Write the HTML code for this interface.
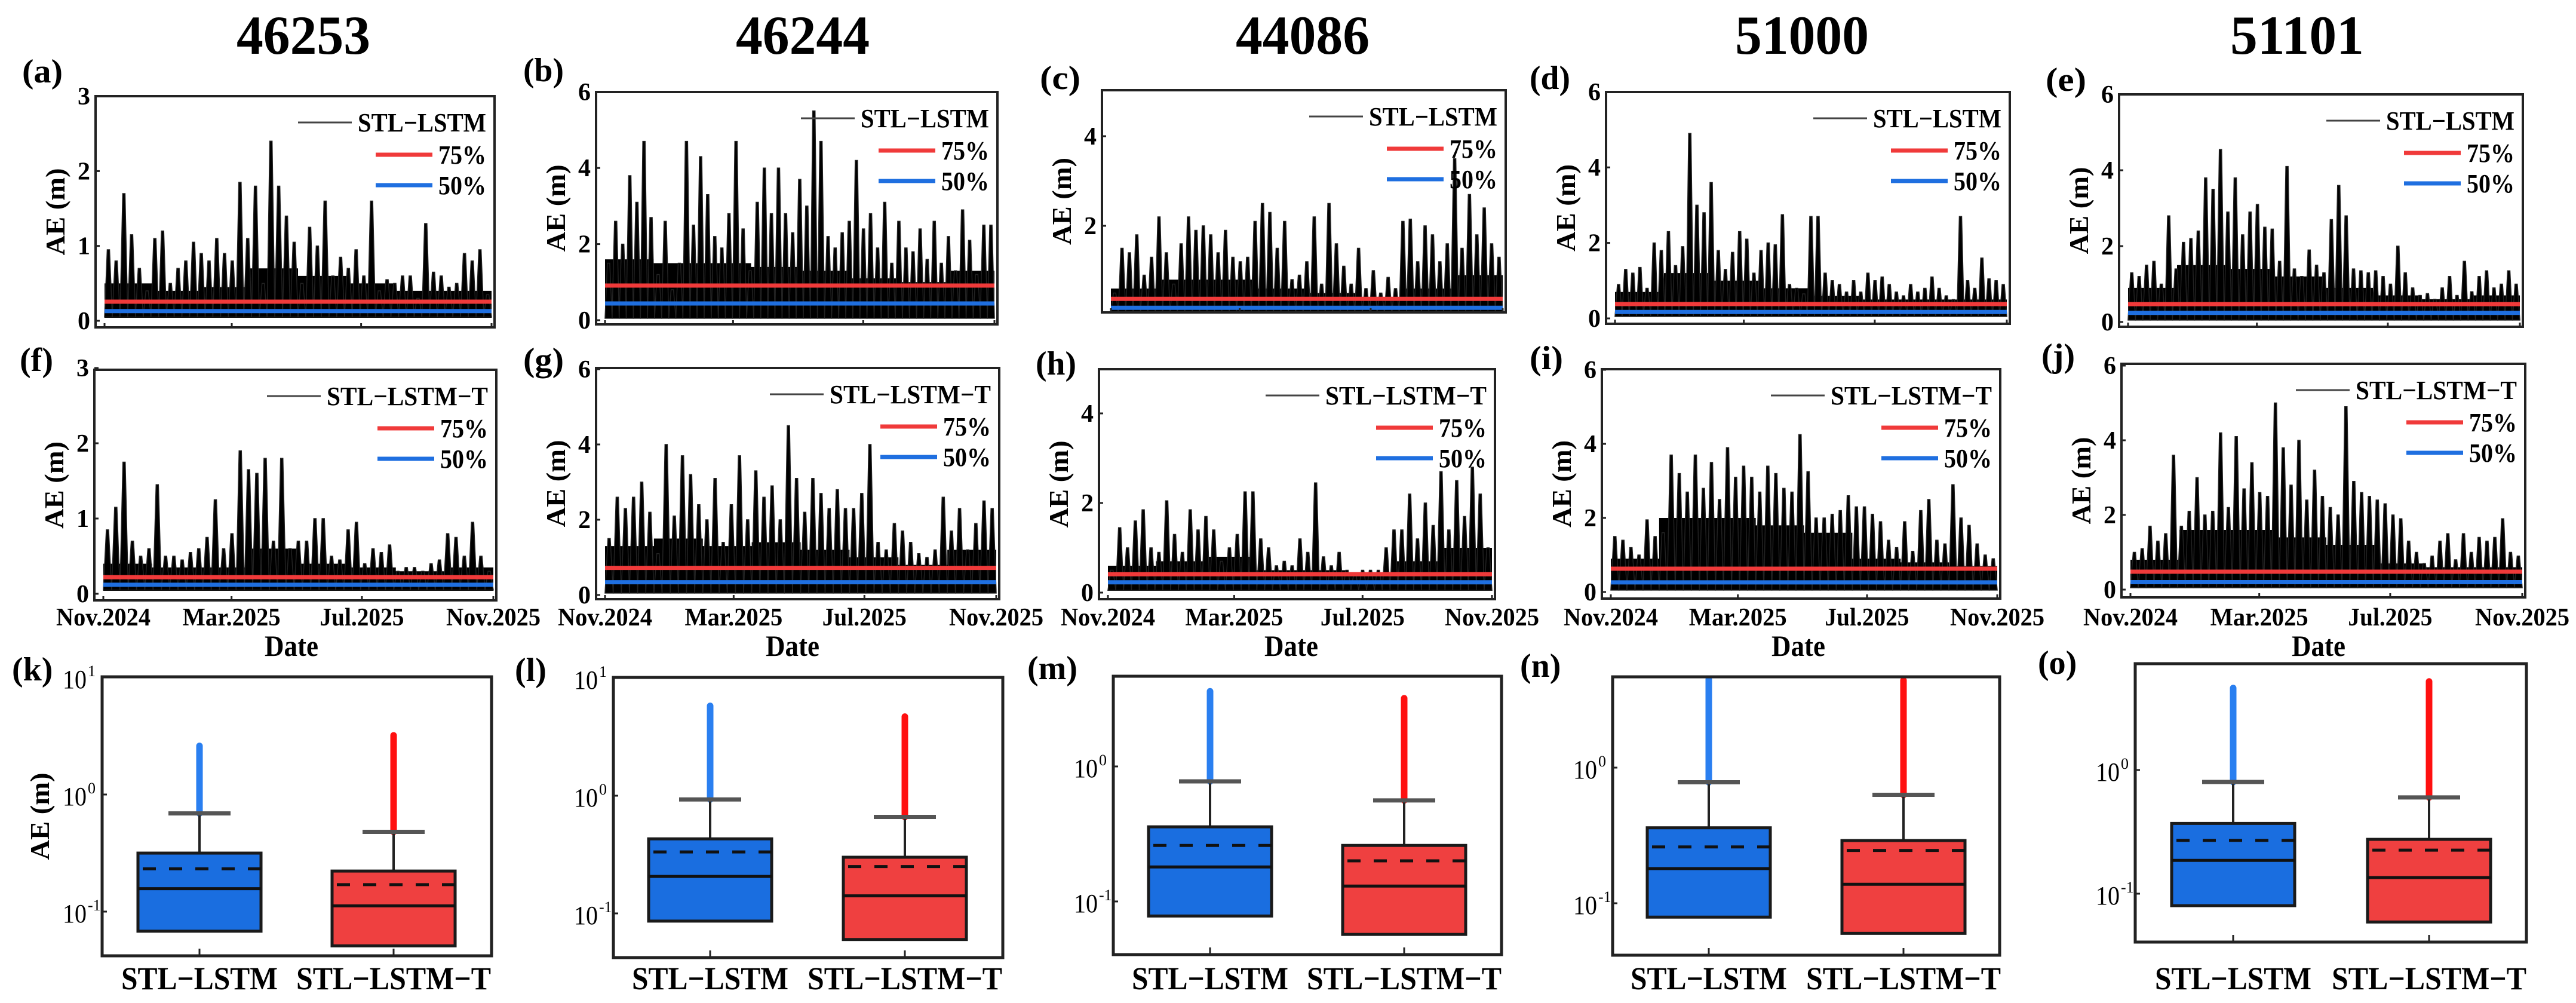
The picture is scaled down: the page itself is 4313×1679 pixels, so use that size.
<!DOCTYPE html>
<html><head><meta charset="utf-8">
<style>
html,body{margin:0;padding:0;background:#fff;}
svg{display:block;font-family:"Liberation Serif","Times New Roman",serif;}
svg text{font-family:"Liberation Serif","Times New Roman",serif;}
</style></head>
<body>
<svg id="fig" width="4313" height="1679" viewBox="0 0 4313 1679" xmlns="http://www.w3.org/2000/svg">
<rect x="0" y="0" width="4313" height="1679" fill="#fff"/>
</svg>
<script>
// ---------- data ----------
const stations = ["46253","46244","44086","51000","51101"];
const dateTicks = ["Nov.2024","Mar.2025","Jul.2025","Nov.2025"];
const dateTickDays = [0,120,242,365];
const models = ["STL−LSTM","STL−LSTM−T"];

const peaksA = [0.95,0.8,1.7,1.15,0.7,0.4,1.1,1.2,0.5,0.7,0.8,1.05,0.9,0.8,1.1,0.9,0.8,1.85,1.1,1.8,0.5,2.4,1.8,1.4,1.05,0.5,1.25,1.0,1.6,0.6,0.85,0.7,0.95,0.6,1.6,0.4,0.55,0.5,0.6,0.6,0.3,1.3,0.65,0.6,0.45,0.5,0.9,0.8,0.95,0.35];
const peaksF = [0.85,1.15,1.75,0.7,0.5,0.6,1.45,0.5,0.5,0.45,0.55,0.6,0.75,1.25,0.6,0.8,1.9,1.65,1.6,1.8,0.7,1.8,0.6,0.7,0.7,1.0,1.0,0.5,0.45,0.85,0.95,0.4,0.6,0.55,0.65,0.3,0.35,0.35,0.3,0.4,0.45,0.8,0.75,0.5,0.95,0.5,0.3];
const peaksB = [1.5,2.6,2.0,3.8,3.1,4.7,2.7,1.2,2.6,0.8,1.5,4.7,2.5,4.3,3.3,2.2,1.9,2.8,4.7,2.4,1.3,3.1,4.0,2.8,4.0,2.8,2.3,3.7,3.0,5.5,4.7,2.2,1.9,2.3,2.6,4.2,2.4,2.8,1.9,3.1,1.5,2.6,1.9,1.8,2.4,1.6,2.6,1.5,2.2,1.3,2.9,2.1,1.2,2.5,2.5];
const peaksG = [1.5,2.6,2.3,2.6,3.0,2.2,1.1,4.0,2.1,3.7,3.2,2.4,2.0,3.1,1.4,2.4,3.7,2.0,3.3,2.6,2.9,2.0,4.5,3.1,2.2,3.1,2.7,2.3,2.8,2.3,2.3,2.7,4.0,1.4,1.2,1.9,1.7,1.4,1.1,1.0,1.2,2.6,1.7,2.3,1.2,1.9,2.5,2.3];
const peaksC = [0.5,1.5,1.4,1.8,0.9,1.3,2.2,1.4,0.7,1.6,2.2,1.9,2.0,1.8,1.4,1.9,1.3,1.2,1.3,2.1,2.5,2.3,1.5,2.1,0.8,0.9,1.2,2.2,0.7,2.5,1.6,1.1,0.7,1.5,0.6,1.0,0.5,0.85,0.6,2.1,2.15,1.2,2.0,1.8,1.2,1.6,3.5,1.5,2.7,1.8,2.4,1.6,1.3];
const peaksH = [0.5,1.45,1.0,1.6,1.85,1.0,0.9,2.05,1.3,0.9,1.85,1.4,1.7,1.4,0.7,1.0,1.3,2.25,2.25,1.2,1.0,0.6,0.7,0.6,1.2,0.9,2.45,0.8,0.6,0.9,0.5,0.4,0.5,0.5,0.5,1.0,1.4,1.4,2.2,1.2,2.0,1.5,2.7,1.4,2.5,1.7,2.8,2.2,1.0];
const peaksD = [0.9,1.3,1.2,1.35,0.8,2.0,1.8,2.3,1.4,1.9,4.9,3.0,2.8,3.6,1.8,1.3,1.75,2.3,2.1,1.2,1.8,2.0,1.95,2.75,0.9,0.8,0.65,2.7,2.7,1.2,1.0,0.9,0.7,1.0,0.7,1.2,1.0,1.1,0.9,0.7,0.6,0.9,0.7,0.8,1.1,0.8,0.6,0.5,2.7,1.0,0.8,1.6,1.05,1.0,0.9];
const peaksI = [1.5,1.4,1.2,1.0,1.95,1.5,1.6,3.7,3.2,2.7,3.7,2.8,3.5,2.5,3.9,3.1,3.4,3.1,2.7,3.4,3.2,2.8,2.7,4.25,3.25,2.0,2.0,2.1,2.2,2.6,2.3,2.3,2.1,1.9,1.4,1.2,1.9,1.1,2.2,2.5,1.4,1.3,2.9,2.0,1.8,1.3,1.0,0.9];
const peaksE = [1.3,1.2,1.5,1.6,1.0,2.8,1.4,2.1,2.2,2.4,3.8,3.5,4.55,2.9,3.8,2.3,2.9,3.1,2.5,2.45,1.6,4.1,1.4,1.2,1.9,1.5,1.3,2.7,3.6,2.8,1.4,1.35,1.3,1.35,1.2,1.0,2.0,1.3,0.9,0.7,0.75,0.6,0.9,1.2,0.7,1.6,0.8,1.2,1.35,0.9,1.0,1.35,1.0];
const peaksJ = [1.0,1.1,1.7,1.3,1.5,3.6,1.7,2.1,3.0,2.0,2.1,4.2,2.2,4.1,2.7,3.4,2.6,2.5,5.0,3.8,2.8,4.0,2.4,3.2,2.5,2.2,2.0,4.9,2.9,2.6,2.5,2.4,2.3,2.0,1.9,1.3,1.0,0.7,0.9,1.3,1.5,0.8,1.5,1.0,1.4,1.3,1.4,1.9,1.0,0.9];

const bodyA = [0.5,0.4,0.45,0.7,0.6,0.5,0.4,0.4];
const bodyF = [0.4,0.35,0.35,0.6,0.4,0.35,0.3,0.35];
const bodyB = [1.6,1.5,1.5,1.4,1.3,1.1,1.0,1.3];
const bodyG = [1.3,1.5,1.3,1.4,1.2,1.0,0.8,1.2];
const bodyC = [0.6,0.8,0.8,0.6,0.5,0.4,0.6,0.9];
const bodyH = [0.6,0.7,0.8,0.5,0.5,0.4,0.7,1.0];
const bodyD = [0.7,1.2,1.0,0.8,0.6,0.5,0.5,0.5];
const bodyI = [0.9,2.0,2.0,1.8,1.6,0.9,0.8,0.7];
const bodyE = [0.9,1.5,1.4,1.2,0.9,0.7,0.6,0.7];
const bodyJ = [0.8,1.6,1.6,1.4,1.2,0.7,0.6,0.6];

const q75Line = [0.255,0.91,0.37,0.38,0.47, 0.22,0.72,0.41,0.63,0.48];
const q50Line = [0.13,0.44,0.17,0.17,0.24, 0.12,0.34,0.23,0.26,0.20];

// box stats per station: [q1, median, mean, q3, whisker, outlierTop]
const boxLSTM  = [[0.068,0.157,0.232,0.316,0.69,2.6],[0.086,0.206,0.333,0.43,0.93,5.8],[0.078,0.18,0.26,0.357,0.775,3.6],[0.079,0.18,0.26,0.36,0.78,4.6],[0.08,0.186,0.27,0.37,0.80,4.6]];
const boxLSTMT = [[0.051,0.112,0.17,0.222,0.48,3.2],[0.06,0.141,0.25,0.30,0.66,4.7],[0.057,0.13,0.20,0.26,0.56,3.2],[0.06,0.138,0.245,0.29,0.63,4.4],[0.059,0.135,0.225,0.275,0.60,5.2]];

// ---------- layout ----------
const NS="http://www.w3.org/2000/svg";
const svg=document.getElementById('fig');
function mk(tag,attrs,parent){const e=document.createElementNS(NS,tag);for(const k in attrs)e.setAttribute(k,attrs[k]);(parent||svg).appendChild(e);return e;}
function txt(s,attrs,parent,w){const e=mk('text',attrs,parent);e.textContent=s;if(w){e.setAttribute('textLength',w);e.setAttribute('lengthAdjust','spacingAndGlyphs');}return e;}

const tsPanels=[
 {id:'a',lab:'(a)',lx:37,ly:138,x0:160,x1:828,y0:161,y1:548,zy:537,ppu:125.3,ticks:[0,1,2,3],peaks:peaksA,body:bodyA,model:0,row:0,col:0},
 {id:'b',lab:'(b)',lx:876,ly:136,x0:998,x1:1670,y0:154,y1:543,zy:536,ppu:63.7,ticks:[0,2,4,6],peaks:peaksB,body:bodyB,model:0,row:0,col:1},
 {id:'c',lab:'(c)',lx:1741,ly:149,x0:1845,x1:2521,y0:151,y1:523,zy:528,ppu:75,ticks:[2,4],peaks:peaksC,body:bodyC,model:0,row:0,col:2},
 {id:'d',lab:'(d)',lx:2561,ly:149,x0:2689,x1:3365,y0:154,y1:542,zy:533,ppu:63.2,ticks:[0,2,4,6],peaks:peaksD,body:bodyD,model:0,row:0,col:3},
 {id:'e',lab:'(e)',lx:3425,ly:152,x0:3548,x1:4224,y0:158,y1:547,zy:539,ppu:63.5,ticks:[0,2,4,6],peaks:peaksE,body:bodyE,model:0,row:0,col:4},
 {id:'f',lab:'(f)',lx:33,ly:621,x0:158,x1:831,y0:619,y1:1005,zy:994,ppu:126,ticks:[0,1,2,3],peaks:peaksF,body:bodyF,model:1,row:1,col:0},
 {id:'g',lab:'(g)',lx:876,ly:621,x0:998,x1:1673,y0:616,y1:1003,zy:996,ppu:63,ticks:[0,2,4,6],peaks:peaksG,body:bodyG,model:1,row:1,col:1},
 {id:'h',lab:'(h)',lx:1734,ly:627,x0:1840,x1:2503,y0:618,y1:1003,zy:992,ppu:75,ticks:[0,2,4],peaks:peaksH,body:bodyH,model:1,row:1,col:2},
 {id:'i',lab:'(i)',lx:2561,ly:618,x0:2682,x1:3349,y0:618,y1:1002,zy:991,ppu:62,ticks:[0,2,4,6],peaks:peaksI,body:bodyI,model:1,row:1,col:3},
 {id:'j',lab:'(j)',lx:3418,ly:614,x0:3552,x1:4228,y0:609,y1:1000,zy:987,ppu:62.5,ticks:[0,2,4,6],peaks:peaksJ,body:bodyJ,model:1,row:1,col:4}
];
const titleX=[508,1344,2181,3017,3846];
const dateLabelX=[488,1327,2162,3011,3882];
const dateTickW=[158,164,141,158];

stations.forEach((s,i)=>{
  const t=txt(s,{x:titleX[i]-112,y:90,'font-size':92,'font-weight':'bold'},svg,224);
  
  
});

tsPanels.forEach((p,pi)=>{
  const g=mk('g',{});
  
  
  const clipId='clip'+p.id;
  const cp=mk('clipPath',{id:clipId},g);
  mk('rect',{x:p.x0,y:p.y0,width:p.x1-p.x0,height:p.y1-p.y0},cp);
  const dx0=p.x0+15, dx1=p.x1-5;
  const X=d=>dx0+(dx1-dx0)*d/365;
  const Y=v=>p.zy-v*p.ppu;
  const plot=mk('g',{'clip-path':'url(#'+clipId+')'},g);
  let dpath='M'+dx0+','+Y(0.04);
  const nb=p.body.length;
  p.body.forEach((v,k)=>{
    const xa=dx0+(dx1-dx0)*k/nb, xb=dx0+(dx1-dx0)*(k+1)/nb;
    dpath+=' L'+xa+','+Y(v)+' L'+xb+','+Y(v);
  });
  dpath+=' L'+dx1+','+Y(0.04)+' Z';
  const body=mk('path',{d:dpath,fill:'#000'},plot);
  
  
  const n=p.peaks.length;
  p.peaks.forEach((v,k)=>{
    const cx=dx0+(dx1-dx0)*(k+0.5)/n;
    const hw=(dx1-dx0)/n*0.5;
    const sp=mk('path',{d:`M${cx-hw},${Y(0.05)} L${cx-2},${Y(v)} L${cx+2},${Y(v)} L${cx+hw},${Y(0.05)} Z`,fill:'#000',stroke:'#222','stroke-width':1.5},plot);
    
    
  });
  const r=mk('line',{x1:dx0,x2:dx1,y1:Y(q75Line[pi]),y2:Y(q75Line[pi]),stroke:'#f03a3a','stroke-width':7},plot);
  
  
  const b=mk('line',{x1:dx0,x2:dx1,y1:Y(q50Line[pi]),y2:Y(q50Line[pi]),stroke:'#1f6fe0','stroke-width':7},plot);
  
  
  const fr=mk('rect',{x:p.x0,y:p.y0,width:p.x1-p.x0,height:p.y1-p.y0,fill:'none',stroke:'#222','stroke-width':4},g);
  
  
  p.ticks.forEach(t=>{
    mk('line',{x1:p.x0,x2:p.x0+7,y1:Y(t),y2:Y(t),stroke:'#222','stroke-width':3},g);
    const tl=txt(String(t),{x:p.x0-9,y:Y(t)+14,'text-anchor':'end','font-size':42,'font-weight':'bold'},g);
    
    
  });
  dateTickDays.forEach((d,k)=>{
    mk('line',{x1:X(d),x2:X(d),y1:p.y1,y2:p.y1-7,stroke:'#222','stroke-width':3},g);
    if(p.row===1){
      const xl=txt(dateTicks[k],{x:X(d)-dateTickW[k]/2,y:1047,'font-size':42,'font-weight':'bold'},g,dateTickW[k]);
      
      
    }
  });
  if(p.row===1){
    const dl=txt('Date',{x:dateLabelX[p.col]-45,y:1098,'font-size':50,'font-weight':'bold'},g,90);
    
    
  }
  const cy=(p.y0+p.y1)/2, ax=p.x0-68;
  const yt=txt('AE (m)',{x:ax-73,y:cy,'font-size':46,'font-weight':'bold',transform:`rotate(-90 ${ax} ${cy}) translate(0 16)`},g,146);
  
  
  const pl=txt(p.lab,{x:p.lx,y:p.ly,'font-size':56,'font-weight':'bold'},g,p.lab==='(i)'||p.lab==='(j)'||p.lab==='(f)'?56:68);
  
  
  const lg=mk('g',{},g);
  
  
  const tr=p.x1-14;
  const mname=models[p.model];
  const mw=p.model===0?215:270;
  const l1y=p.y0+44;
  mk('line',{x1:tr-mw-100,x2:tr-mw-10,y1:l1y,y2:l1y,stroke:'#444','stroke-width':3},lg);
  const e1=txt(mname,{x:tr-mw,y:l1y+15,'font-size':44,'font-weight':'bold'},lg,mw);
  
  
  const l2y=p.y0+98, l3y=p.y0+149;
  mk('line',{x1:tr-185,x2:tr-90,y1:l2y,y2:l2y,stroke:'#f03a3a','stroke-width':7},lg);
  const e2=txt('75%',{x:tr-80,y:l2y+15,'font-size':44,'font-weight':'bold'},lg,80);
  
  
  mk('line',{x1:tr-185,x2:tr-90,y1:l3y,y2:l3y,stroke:'#1f6fe0','stroke-width':7},lg);
  const e3=txt('50%',{x:tr-80,y:l3y+15,'font-size':44,'font-weight':'bold'},lg,80);
  
  
});

// ---------- box plots ----------
const boxPanels=[
 {id:'k',lab:'(k)',lx:20,ly:1139,x0:171,x1:823,y0:1133,y1:1600,z0:1330,dec:196,ticks:[1,0,-1],cx:[334,659]},
 {id:'l',lab:'(l)',lx:862,ly:1140,x0:1027,x1:1679,y0:1134,y1:1603,z0:1332,dec:197,ticks:[1,0,-1],cx:[1189,1515]},
 {id:'m',lab:'(m)',lx:1720,ly:1137,x0:1864,x1:2514,y0:1132,y1:1598,z0:1283,dec:226,ticks:[0,-1],cx:[2026,2351]},
 {id:'n',lab:'(n)',lx:2545,ly:1133,x0:2700,x1:3348,y0:1133,y1:1599,z0:1285,dec:227,ticks:[0,-1],cx:[2861,3187]},
 {id:'o',lab:'(o)',lx:3412,ly:1128,x0:3575,x1:4230,y0:1111,y1:1577,z0:1289,dec:207,ticks:[0,-1],cx:[3739,4067]}
];
const fills=['#1a6ee0','#ef4040'];
const outl=['#2a7ff0','#ff1010'];
const catW=[262,326];
boxPanels.forEach((p,pi)=>{
  const g=mk('g',{});
  
  
  const Y=v=>p.z0-Math.log10(v)*p.dec;
  [boxLSTM[pi],boxLSTMT[pi]].forEach((s,k)=>{
    const cx=p.cx[k], hw=103;
    const [q1,med,mean,q3,wh,top]=s;
    const o=mk('line',{x1:cx,x2:cx,y1:Math.max(Y(top),p.y0+4),y2:Y(wh),stroke:outl[k],'stroke-width':11,'stroke-linecap':'round'},g);
    
    
    mk('line',{x1:cx,x2:cx,y1:Y(wh),y2:Y(q3),stroke:'#222','stroke-width':4},g);
    const c=mk('line',{x1:cx-52,x2:cx+52,y1:Y(wh),y2:Y(wh),stroke:'#555','stroke-width':7},g);
    
    
    const bx=mk('rect',{x:cx-hw,y:Y(q3),width:2*hw,height:Y(q1)-Y(q3),fill:fills[k],stroke:'#1a1a1a','stroke-width':5},g);
    
    
    const md=mk('line',{x1:cx-hw,x2:cx+hw,y1:Y(med),y2:Y(med),stroke:'#111','stroke-width':5},g);
    
    
    const mn=mk('line',{x1:cx-hw+8,x2:cx+hw,y1:Y(mean),y2:Y(mean),stroke:'#111','stroke-width':5,'stroke-dasharray':'22 22'},g);
    
    
    mk('line',{x1:cx,x2:cx,y1:p.y1,y2:p.y1-12,stroke:'#222','stroke-width':3},g);
    const cl=txt(models[k],{x:cx-catW[k]/2,y:1656,'font-size':54,'font-weight':'bold'},g,catW[k]);
    
    
  });
  const fr=mk('rect',{x:p.x0,y:p.y0,width:p.x1-p.x0,height:p.y1-p.y0,fill:'none',stroke:'#222','stroke-width':5},g);
  
  
  p.ticks.forEach(t=>{
    const y=p.z0-t*p.dec;
    mk('line',{x1:p.x0,x2:p.x0+8,y1:y,y2:y,stroke:'#222','stroke-width':3},g);
    const tl=txt('10',{x:p.x0-66,y:y+18,'font-size':44},g,40);
    
    
    txt(String(t),{x:p.x0-24,y:y-2,'font-size':26},g);
  });
  if(pi===0){
    const cy=(p.y0+p.y1)/2, ax=p.x0-105;
    const yt=txt('AE (m)',{x:ax-73,y:cy,'font-size':46,'font-weight':'bold',transform:`rotate(-90 ${ax} ${cy}) translate(0 16)`},g,146);
    
    
  }
  const pl=txt(p.lab,{x:p.lx,y:p.ly,'font-size':56,'font-weight':'bold'},g);
  
  
});
</script>
</body></html>
